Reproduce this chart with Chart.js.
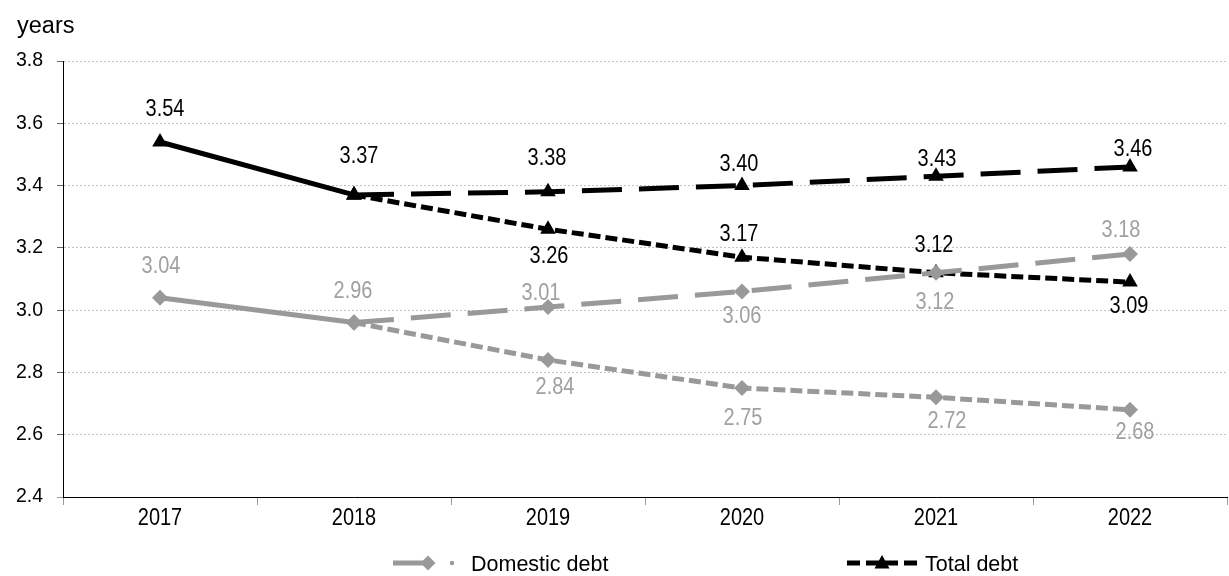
<!DOCTYPE html>
<html>
<head>
<meta charset="utf-8">
<title>Average maturity of debt</title>
<script src="https://cdn.jsdelivr.net/npm/chart.js@4.4.1/dist/chart.umd.min.js"></script>
<style>
  html, body { margin: 0; padding: 0; background: #ffffff; overflow: hidden; }
  #wrap { width: 1236px; height: 576px; }
  canvas { display: block; }
</style>
</head>
<body>
<div id="wrap"><canvas id="chart" width="1236" height="576"></canvas></div>
<script>
// Years on the category axis
const categories = ['2017', '2018', '2019', '2020', '2021', '2022'];

// Total debt: outturn, then the two projected paths from 2018
const totalActual = [3.54, 3.37, null, null, null, null];
const totalHigh   = [null, 3.37, 3.38, 3.40, 3.43, 3.46];
const totalLow    = [null, 3.37, 3.26, 3.17, 3.12, 3.09];

// Domestic debt: outturn, then the two projected paths from 2018
const domesticActual = [3.04, 2.96, null, null, null, null];
const domesticHigh   = [null, 2.96, 3.01, 3.06, 3.12, 3.18];
const domesticLow    = [null, 2.96, 2.84, 2.75, 2.72, 2.68];

// Value axis ticks
const yTicks = [2.4, 2.6, 2.8, 3.0, 3.2, 3.4, 3.6, 3.8];

const legendNames = ['Domestic debt', 'Total debt'];
const unitTitle = 'years';

const FONT = '"Liberation Sans", Arial, sans-serif';
const GRAY = '#999999';
const GRAY_TEXT = '#a0a0a0';
const BLACK = '#000000';
const LONG_DASH = [40, 17];
const SHORT_DASH = [12, 5];
const SQUEEZE = 0.85;   // horizontal squeeze for the condensed text

// Label placement (pixel nudges from each point); null = no label
const labelNudge = [
  [[1, -31], [-1, -31], null, null, null, null],            // domestic outturn
  [null, null, [-7, -14], [0, 25], [-1, 30], [-9, -24]],    // domestic upper path
  [null, null, [7, 28], [1, 31], [11, 24], [5, 23]],        // domestic lower path
  [[5, -32], [5, -38], null, null, null, null],             // total outturn
  [null, null, [-1, -33], [-3, -21], [1, -17], [3, -17]],   // total upper path
  [null, null, [1, 27], [-3, -23], [-2, -27], [-1, 24]]     // total lower path
];

function lineSet(data, color, dash, style) {
  const r = style === 'triangle' ? 9 : 8;
  return {
    data: data,
    borderColor: color,
    backgroundColor: color,
    borderWidth: 5,
    borderDash: dash,
    borderCapStyle: 'butt',
    borderJoinStyle: 'round',
    pointStyle: style,
    pointRadius: r,
    pointHoverRadius: r,
    pointBorderWidth: 0,
    pointBackgroundColor: color,
    tension: 0,
    spanGaps: false,
    fill: false
  };
}

function condensedText(ctx, text, x, y, size, color) {
  ctx.save();
  ctx.translate(x, y);
  ctx.scale(SQUEEZE, 1);
  ctx.font = size + 'px ' + FONT;
  ctx.textAlign = 'center';
  ctx.textBaseline = 'middle';
  ctx.fillStyle = color;
  ctx.fillText(text, 0, 0);
  ctx.restore();
}

// Data labels and year labels in a condensed face
const condensedLabels = {
  id: 'condensedLabels',
  afterDatasetsDraw(chart) {
    const ctx = chart.ctx;
    chart.data.datasets.forEach((ds, i) => {
      const meta = chart.getDatasetMeta(i);
      const color = i < 3 ? GRAY_TEXT : BLACK;
      ds.data.forEach((v, j) => {
        const nudge = labelNudge[i][j];
        if (v === null || !nudge) return;
        const el = meta.data[j];
        condensedText(ctx, v.toFixed(2), el.x + nudge[0], el.y + nudge[1], 23.5, color);
      });
    });
    const xs = chart.scales.x;
    xs.ticks.forEach((t, i) => {
      condensedText(ctx, categories[i], xs.getPixelForTick(i), xs.top + 21.5, 23.5, BLACK);
    });
  }
};

const titleAndLegend = {
  id: 'titleAndLegend',
  afterDraw(chart) {
    const ctx = chart.ctx;
    ctx.save();
    // unit title above the value axis
    ctx.font = '23.5px ' + FONT;
    ctx.fillStyle = BLACK;
    ctx.textAlign = 'left';
    ctx.textBaseline = 'alphabetic';
    ctx.fillText(unitTitle, 17, 33);

    const ly = 563;
    const textBase = 571;
    ctx.font = '21.5px ' + FONT;

    // Domestic debt key
    ctx.strokeStyle = GRAY;
    ctx.lineWidth = 5;
    ctx.setLineDash([]);
    ctx.beginPath();
    ctx.moveTo(393, ly);
    ctx.lineTo(430, ly);
    ctx.stroke();
    ctx.fillStyle = GRAY;
    ctx.beginPath();
    ctx.moveTo(428, ly - 7.5);
    ctx.lineTo(435.5, ly);
    ctx.lineTo(428, ly + 7.5);
    ctx.lineTo(420.5, ly);
    ctx.closePath();
    ctx.fill();
    ctx.beginPath();
    ctx.arc(452, ly, 2.2, 0, Math.PI * 2);
    ctx.fill();
    ctx.fillStyle = BLACK;
    ctx.fillText(legendNames[0], 471, textBase);

    // Total debt key
    ctx.strokeStyle = BLACK;
    ctx.lineWidth = 5;
    ctx.setLineDash([13, 6]);
    ctx.beginPath();
    ctx.moveTo(847, ly);
    ctx.lineTo(918, ly);
    ctx.stroke();
    ctx.setLineDash([]);
    ctx.fillStyle = BLACK;
    ctx.beginPath();
    ctx.moveTo(882, ly - 8);
    ctx.lineTo(889.5, ly + 5.5);
    ctx.lineTo(874.5, ly + 5.5);
    ctx.closePath();
    ctx.fill();
    ctx.fillText(legendNames[1], 925, textBase);
    ctx.restore();
  }
};

new Chart(document.getElementById('chart'), {
  type: 'line',
  data: {
    labels: categories,
    datasets: [
      lineSet(domesticActual, GRAY, [], 'rectRot'),
      lineSet(domesticHigh, GRAY, LONG_DASH, 'rectRot'),
      lineSet(domesticLow, GRAY, SHORT_DASH, 'rectRot'),
      lineSet(totalActual, BLACK, [], 'triangle'),
      lineSet(totalHigh, BLACK, LONG_DASH, 'triangle'),
      lineSet(totalLow, BLACK, SHORT_DASH, 'triangle')
    ]
  },
  options: {
    responsive: false,
    animation: false,
    devicePixelRatio: 1,
    layout: { padding: { top: 61, right: 0, bottom: 0, left: 0 } },
    plugins: {
      legend: { display: false },
      tooltip: { enabled: false },
      title: { display: false }
    },
    scales: {
      x: {
        offset: true,
        grid: {
          offset: true,
          drawOnChartArea: false,
          drawTicks: true,
          tickLength: 8,
          tickColor: '#9a9a9a',
          tickWidth: 1
        },
        border: { display: true, color: BLACK, width: 1 },
        ticks: {
          color: 'rgba(0,0,0,0)',
          font: { family: FONT, size: 20 },
          padding: 2,
          maxRotation: 0
        },
        afterFit(scale) { scale.height = 79; }
      },
      y: {
        min: yTicks[0],
        max: yTicks[yTicks.length - 1],
        afterBuildTicks(scale) { scale.ticks = yTicks.map(v => ({ value: v })); },
        grid: {
          color: '#c2c2c2',
          lineWidth: 1,
          drawTicks: true,
          tickLength: 6,
          tickColor: c => (c.tick && c.tick.value === yTicks[0]) ? '#9a9a9a' : '#666666',
          tickBorderDash: []
        },
        border: { display: true, color: BLACK, width: 1, dash: [2, 2] },
        ticks: {
          color: BLACK,
          font: { family: FONT, size: 19.5 },
          padding: 14,
          callback: v => Number(v).toFixed(1)
        },
        afterFit(scale) { scale.width = 63; }
      }
    }
  },
  plugins: [condensedLabels, titleAndLegend]
});
</script>
</body>
</html>
